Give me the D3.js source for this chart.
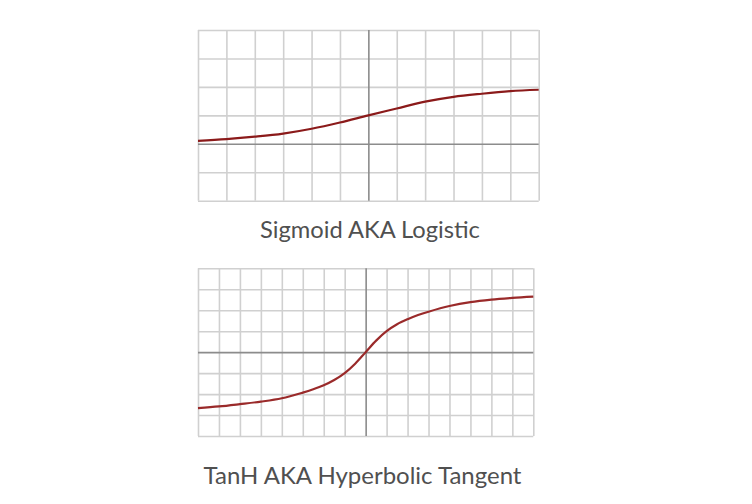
<!DOCTYPE html>
<html>
<head>
<meta charset="utf-8">
<script src="https://cdn.jsdelivr.net/npm/d3@7"></script>
<style>
  html, body { margin: 0; padding: 0; background: #ffffff; }
  svg { display: block; }
</style>
</head>
<body>
<svg id="chart" width="752" height="504"></svg>
<script>
// ---- Data (in grid units) ----
const sigmoidTitle = "Sigmoid AKA Logistic";
const sigmoidX = [-6, -5, -4, -3, -2, -1, 0, 1, 2, 3, 4, 5, 6];
const sigmoidY = [0.106, 0.165, 0.25, 0.36, 0.53, 0.75, 1.0, 1.24, 1.48, 1.65, 1.76, 1.85, 1.9];
const sigmoidXTicks = [-6, -5, -4, -3, -2, -1, 1, 2, 3, 4, 5, 6];
const sigmoidYTicks = [-2, -1, 1, 2, 3, 4];

const tanhTitle = "TanH AKA Hyperbolic Tangent";
const tanhX = [-8, -7, -6, -5, -4, -3, -2.5, -2, -1.5, -1, -0.5, 0, 0.5, 1, 1.5, 2, 2.5, 3, 4, 5, 6, 7, 8];
const tanhY = [-2.67, -2.59, -2.48, -2.36, -2.2, -1.93, -1.77, -1.58, -1.33, -1.0, -0.55, 0, 0.55, 1.0, 1.33, 1.57, 1.77, 1.93, 2.2, 2.39, 2.51, 2.59, 2.65];
const tanhXTicks = [-8, -7, -6, -5, -4, -3, -2, -1, 1, 2, 3, 4, 5, 6, 7, 8];
const tanhYTicks = [-4, -3, -2, -1, 1, 2, 3, 4];
const axisTicks = [0];

const svg = d3.select("#chart");

function gridLayer(g, cfg, x, y, xt, yt, color) {
  const h = cfg.bottom - cfg.top, w = cfg.right - cfg.left;
  const gx = g.append("g")
    .attr("transform", `translate(0,${cfg.bottom})`)
    .call(d3.axisBottom(x).tickValues(xt).tickSize(-h).tickFormat(""));
  gx.select(".domain").remove();
  gx.selectAll(".tick line").attr("stroke", color).attr("stroke-width", 1.6);
  const gy = g.append("g")
    .attr("transform", `translate(${cfg.left},0)`)
    .call(d3.axisLeft(y).tickValues(yt).tickSize(-w).tickFormat(""));
  gy.select(".domain").remove();
  gy.selectAll(".tick line").attr("stroke", color).attr("stroke-width", 1.6);
}

function drawPanel(cfg) {
  const x = d3.scaleLinear().domain(cfg.xDomain).range([cfg.left, cfg.right]);
  const y = d3.scaleLinear().domain(cfg.yDomain).range([cfg.bottom, cfg.top]);
  const g = svg.append("g");

  gridLayer(g, cfg, x, y, cfg.xTicks, cfg.yTicks, "#d0d0d0");
  gridLayer(g, cfg, x, y, axisTicks, axisTicks, "#8c8c8c");

  const pts = cfg.xs.map((v, i) => [v, cfg.ys[i]]);
  g.append("path")
    .datum(pts)
    .attr("fill", "none")
    .attr("stroke", cfg.color)
    .attr("stroke-width", 2.2)
    .attr("d", d3.line().x(d => x(d[0])).y(d => y(d[1])).curve(d3.curveCatmullRom.alpha(0.5)));

  const t = svg.append("text")
    .attr("x", cfg.titleCx)
    .attr("y", cfg.titleBaseline)
    .attr("text-anchor", "middle")
    .attr("font-family", "Lato, 'Open Sans', sans-serif")
    .attr("font-size", cfg.titleSize)
    .attr("fill", "#505050")
    .text(cfg.title);
  const len = t.node().getComputedTextLength();
  if (len > 0) t.attr("font-size", cfg.titleSize * cfg.titleWidth / len);
}

drawPanel({
  xDomain: [-6, 6], yDomain: [-2, 4],
  left: 198, right: 538.7, top: 30, bottom: 200.7,
  xTicks: sigmoidXTicks, yTicks: sigmoidYTicks,
  xs: sigmoidX, ys: sigmoidY, color: "#8b1a1a",
  title: sigmoidTitle, titleCx: 370, titleBaseline: 238, titleSize: 22, titleWidth: 220
});

drawPanel({
  xDomain: [-8, 8], yDomain: [-4, 4],
  left: 198, right: 533.3, top: 268.3, bottom: 436,
  xTicks: tanhXTicks, yTicks: tanhYTicks,
  xs: tanhX, ys: tanhY, color: "#9a2a2a",
  title: tanhTitle, titleCx: 362.5, titleBaseline: 484, titleSize: 22, titleWidth: 318
});
</script>
</body>
</html>
